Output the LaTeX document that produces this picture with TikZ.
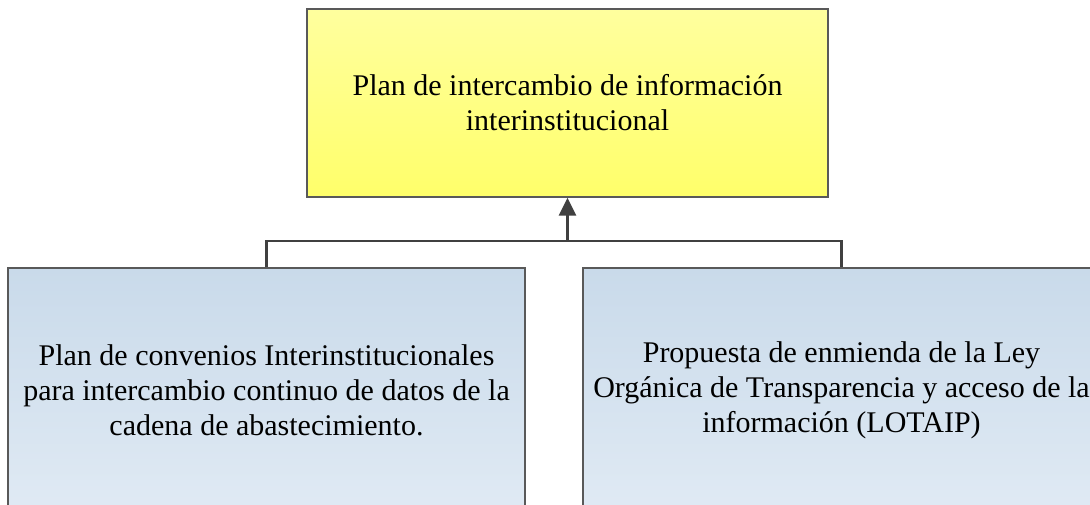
\documentclass[tikz,border=0pt]{standalone}
\usepackage{fontspec}
\setmainfont{Liberation Serif}
\usetikzlibrary{positioning,arrows.meta}
\definecolor{ytop}{HTML}{FFFF9E}
\definecolor{ybot}{HTML}{FFFF6A}
\definecolor{btop}{HTML}{C9DAEA}
\definecolor{bbot}{HTML}{E0EAF4}
\definecolor{edge}{HTML}{595959}
\definecolor{wire}{HTML}{404040}
\tikzset{
  box/.style={rectangle, draw=edge, line width=1.3pt, align=center,
    font=\fontsize{30}{35}\selectfont},
  goalbox/.style={box, minimum width=521pt, minimum height=188pt,
    top color=ytop, bottom color=ybot},
  taskbox/.style={box, minimum width=517pt, minimum height=244pt,
    top color=btop, bottom color=bbot},
  link/.style={draw=wire, line width=2.5pt}
}
\begin{document}
\begin{tikzpicture}[x=1pt,y=-1pt]
  \useasboundingbox (0,0) rectangle (1090,504);
  \clip (0,0) rectangle (1090,504);
  \node[goalbox] (plan) at (567.5,103)
    {Plan de intercambio de información\\interinstitucional};
  \node[taskbox] (conv) at (266.5,390)
    {Plan de convenios Interinstitucionales\\para intercambio continuo de datos de la\\cadena de abastecimiento.};
  \node[taskbox] (ley) at (841.5,390)
    {Propuesta de enmienda de la Ley\\Orgánica de Transparencia y acceso de la\\información (LOTAIP)};
  \coordinate (bus) at (567.5,241);
  \begin{scope}[link]
    \draw (conv.north) |- (bus) -| (ley.north);
    \draw[-{Triangle[length=18pt,width=17pt]}] (bus) -- (plan.south);
  \end{scope}
\end{tikzpicture}
\end{document}
